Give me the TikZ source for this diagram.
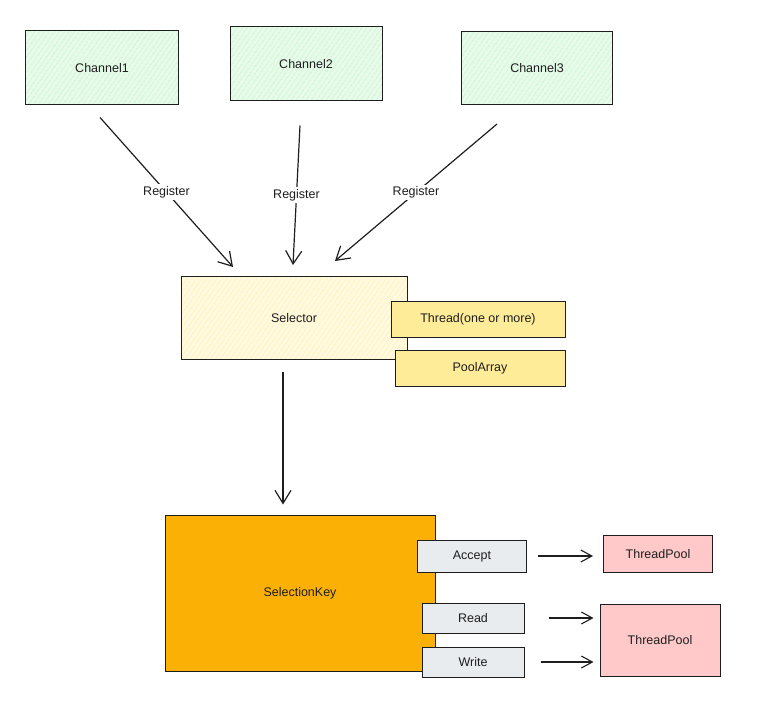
\documentclass[tikz,border=0pt]{standalone}
\usepackage{fontspec}
\setmainfont{Liberation Sans}
\usetikzlibrary{arrows.meta, calc, positioning, patterns.meta}
\definecolor{ink}{RGB}{30,30,30}
\definecolor{chgreen}{RGB}{178,242,187}
\definecolor{selyellow}{RGB}{255,236,153}
\definecolor{keyorange}{RGB}{250,176,5}
\definecolor{opgray}{RGB}{233,236,239}
\definecolor{poolred}{RGB}{255,201,201}
\tikzset{
  box/.style={draw=ink, line width=1pt, text=ink, font=\fontsize{12.5}{14}\selectfont},
  hatch/.style={box, preaction={fill=#1!30}, preaction={pattern={Lines[angle=55,distance=4pt,line width=0.9pt]}, pattern color=#1}},
  lbl/.style={fill=white, text=ink, inner sep=2pt, font=\fontsize{12.5}{14}\selectfont},
  arr/.style={draw=ink, line width=1.2pt, -{Straight Barb[length=13pt,width=16pt,line width=1.2pt]}},
  sarr/.style={draw=ink, line width=1.1pt, -{Straight Barb[length=11pt,width=12pt,line width=1.1pt]}}
}
\begin{document}
\begin{tikzpicture}[x=1pt, y=-1pt]
\useasboundingbox (0,0) rectangle (775,706);
\node[hatch=chgreen, minimum width=153pt, minimum height=74pt] (c1) at (102,68) {Channel1};
\node[hatch=chgreen, minimum width=152pt, minimum height=74pt] (c2) at (306,64) {Channel2};
\node[hatch=chgreen, minimum width=151pt, minimum height=73pt] (c3) at (537,68) {Channel3};
\node[hatch=selyellow, minimum width=226pt, minimum height=83pt] (sel) at (294,318) {Selector};
\node[box, fill=selyellow, minimum width=174pt, minimum height=36pt] (thr) at (478,319) {Thread(one or more)};
\node[box, fill=selyellow, minimum width=170pt, minimum height=36pt] (pa) at (480,368) {PoolArray};
\node[box, fill=keyorange, minimum width=270pt, minimum height=156pt] (key) at (300,593) {SelectionKey};
\node[box, fill=opgray, minimum width=109pt, minimum height=32pt] (acc) at (472,556) {Accept};
\node[box, fill=opgray, minimum width=102pt, minimum height=30pt] (rd) at (473,618) {Read};
\node[box, fill=opgray, minimum width=102pt, minimum height=30pt] (wr) at (473,662) {Write};
\node[box, fill=poolred, minimum width=109pt, minimum height=37pt] (tp1) at (658,554) {ThreadPool};
\node[box, fill=poolred, minimum width=120pt, minimum height=72pt] (tp2) at (660,640) {ThreadPool};
\draw[arr] ($(c1.south)+(-2,12)$) -- node[lbl]{Register} ($(sel.north)+(-61,-9)$);
\draw[arr] ($(c2.south)+(-6,24)$) -- node[lbl]{Register} ($(sel.north)+(-1,-11)$);
\draw[arr] ($(c3.south)+(-40,19)$) -- node[lbl]{Register} ($(sel.north)+(41,-15)$);
\draw[arr] ($(sel.south)+(-11,12)$) -- ($(key.north)+(-17,-10)$);
\draw[sarr, shorten <=11pt, shorten >=10pt] (acc.east) -- (acc.east -| tp1.west);
\draw[sarr, shorten <=24pt, shorten >=6pt] (rd.east) -- (rd.east -| tp2.west);
\draw[sarr, shorten <=16pt, shorten >=6pt] (wr.east) -- (wr.east -| tp2.west);
\end{tikzpicture}
\end{document}
